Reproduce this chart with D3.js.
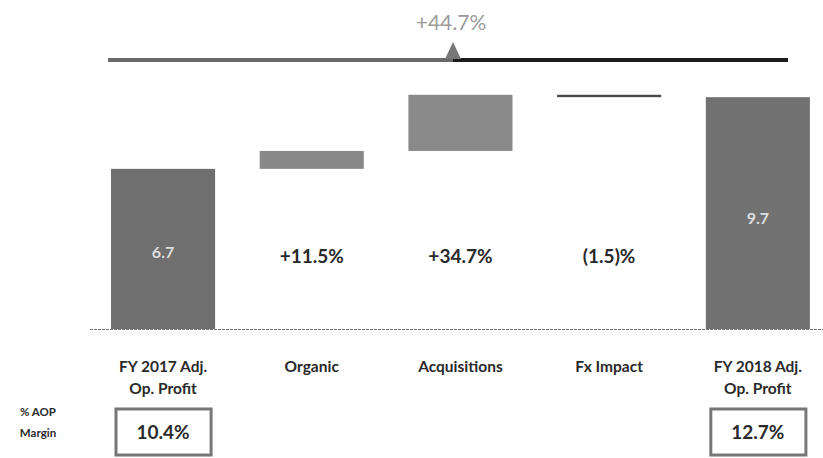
<!DOCTYPE html>
<html>
<head>
<meta charset="utf-8">
<script src="https://cdn.jsdelivr.net/npm/d3@7"></script>
<style>
  body { margin: 0; background: #fff; }
  text { font-family: Lato, "Open Sans", sans-serif; }
</style>
</head>
<body>
<script>
var width = 823, height = 458

// chart values
var categories = ["FY 2017 Adj.|Op. Profit", "Organic", "Acquisitions", "Fx Impact", "FY 2018 Adj.|Op. Profit"]
var kinds = ["total", "delta", "delta", "delta", "total"]
var values = [6.7, 0.75, 2.35, -0.10, 9.7]
var valueLabels = ["6.7", "+11.5%", "+34.7%", "(1.5)%", "9.7"]
var margins = [{cat: 0, label: "10.4%"}, {cat: 4, label: "12.7%"}]
var totalGrowth = "+44.7%"

var x = d3.scaleBand()
    .domain(d3.range(categories.length))
    .range([88.7, 832.2])
    .paddingInner(0.3)
    .paddingOuter(0.15)

var y = d3.scaleLinear()
    .domain([0, 10])
    .range([329, 90])

var svg = d3.select("body").append("svg")
    .attr("width", width)
    .attr("height", height)

// waterfall steps
var run = 0
var steps = values.map(function(v, i) {
  var s
  if (kinds[i] === "total") { s = {lo: 0, hi: v}; run = v }
  else { s = {lo: Math.min(run, run + v), hi: Math.max(run, run + v)}; run = run + v }
  s.i = i; s.v = v
  return s
})

var fills = ["#6f6f6f", "#888888", "#8a8a8a", "#4a4a4a", "#727272"]

svg.selectAll("rect.bar")
    .data(steps)
  .enter().append("rect")
    .attr("class", "bar")
    .attr("x", function(d) { return x(d.i) })
    .attr("width", x.bandwidth())
    .attr("y", function(d) { return y(d.hi) })
    .attr("height", function(d) { return Math.max(2, y(d.lo) - y(d.hi)) })
    .attr("fill", function(d, i) { return fills[i] })

// baseline (dotted)
svg.append("line")
    .attr("x1", 90).attr("x2", width)
    .attr("y1", y(0) + 0.5).attr("y2", y(0) + 0.5)
    .attr("stroke", "#777")
    .attr("stroke-width", 1)
    .attr("stroke-dasharray", "3,1")

// value labels
svg.selectAll("text.val")
    .data(steps)
  .enter().append("text")
    .attr("class", "val")
    .attr("x", function(d) { return x(d.i) + x.bandwidth() / 2 })
    .attr("y", function(d) { return kinds[d.i] === "total" ? y(d.hi * 0.48) + 6 : 263 })
    .attr("text-anchor", "middle")
    .attr("font-weight", "bold")
    .attr("font-size", function(d) { return kinds[d.i] === "total" ? 16 : 19 })
    .attr("fill", function(d) { return kinds[d.i] === "total" ? "#dedede" : "#2a2a2a" })
    .text(function(d) { return valueLabels[d.i] })

// category labels
var cats = svg.selectAll("text.cat")
    .data(categories)
  .enter().append("text")
    .attr("class", "cat")
    .attr("x", function(d, i) { return x(i) + x.bandwidth() / 2 })
    .attr("y", 372)
    .attr("text-anchor", "middle")
    .attr("font-weight", "bold")
    .attr("font-size", 15.5)
    .attr("fill", "#2a2a2a")

cats.selectAll("tspan")
    .data(function(d) { return d.split("|") })
  .enter().append("tspan")
    .attr("x", function() { return d3.select(this.parentNode).attr("x") })
    .attr("dy", function(d, j) { return j === 0 ? 0 : 22 })
    .text(function(d) { return d })

// % AOP margin row
svg.append("text")
    .attr("x", 38).attr("y", 416)
    .attr("text-anchor", "middle")
    .attr("font-weight", "bold").attr("font-size", 11.5)
    .attr("fill", "#2a2a2a")
    .text("% AOP")
svg.append("text")
    .attr("x", 38).attr("y", 437)
    .attr("text-anchor", "middle")
    .attr("font-weight", "bold").attr("font-size", 11.5)
    .attr("fill", "#2a2a2a")
    .text("Margin")

var box = svg.selectAll("g.box")
    .data(margins)
  .enter().append("g")
    .attr("class", "box")

box.append("rect")
    .attr("x", function(d) { return x(d.cat) + 5 })
    .attr("y", 409)
    .attr("width", x.bandwidth() - 9)
    .attr("height", 46)
    .attr("fill", "none")
    .attr("stroke", "#777")
    .attr("stroke-width", 3)

box.append("text")
    .attr("x", function(d) { return x(d.cat) + x.bandwidth() / 2 })
    .attr("y", 439)
    .attr("text-anchor", "middle")
    .attr("font-weight", "bold").attr("font-size", 19)
    .attr("fill", "#2a2a2a")
    .text(function(d) { return d.label })

// total growth annotation on top
var ay = 60, ax = 453
svg.append("line")
    .attr("x1", 108).attr("x2", ax)
    .attr("y1", ay).attr("y2", ay)
    .attr("stroke", "#6a6a6a").attr("stroke-width", 4)
svg.append("line")
    .attr("x1", ax).attr("x2", 788)
    .attr("y1", ay).attr("y2", ay)
    .attr("stroke", "#1c1c1c").attr("stroke-width", 4)
svg.append("path")
    .attr("d", "M" + (ax - 8) + "," + (ay - 1) + "L" + ax + "," + (ay - 18) + "L" + (ax + 8) + "," + (ay - 1) + "Z")
    .attr("fill", "#777")
svg.append("text")
    .attr("x", ax - 2).attr("y", 30)
    .attr("text-anchor", "middle")
    .attr("font-size", 21)
    .attr("fill", "#9a9a9a")
    .text(totalGrowth)
</script>
</body>
</html>
